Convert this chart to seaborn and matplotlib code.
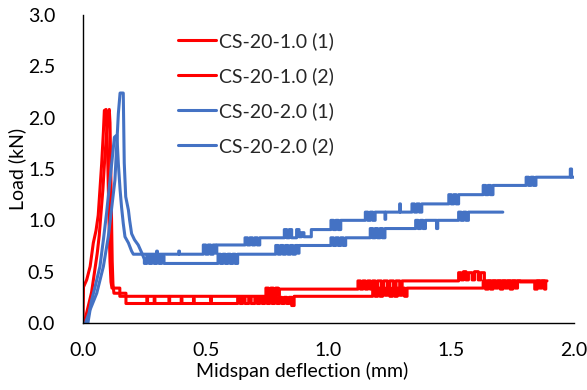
import pandas as pd
import matplotlib
matplotlib.use("Agg")
import matplotlib.pyplot as plt
from matplotlib.lines import Line2D
import seaborn as sns

labels = ["CS-20-1.0 (1)", "CS-20-1.0 (2)", "CS-20-2.0 (1)", "CS-20-2.0 (2)"]
colors = ["#FF0000", "#FF0000", "#4472C4", "#4472C4"]
x_ticks = [0.0, 0.5, 1.0, 1.5, 2.0]
y_ticks = [0.0, 0.5, 1.0, 1.5, 2.0, 2.5, 3.0]

# (midspan deflection mm, load kN) pairs
red1 = [(0.000, 0.00), (0.002, 0.35), (0.015, 0.42), (0.029, 0.55), (0.042, 0.78), (0.053, 0.90),
        (0.062, 1.05), (0.069, 1.30), (0.076, 1.55), (0.083, 1.86), (0.087, 2.07), (0.094, 2.08),
        (0.098, 1.85), (0.102, 1.45), (0.106, 1.00), (0.110, 0.60), (0.114, 0.40), (0.118, 0.34),
        (0.150, 0.34), (0.150, 0.26),
        (0.260, 0.26), (0.260, 0.21), (0.263, 0.21), (0.263, 0.26),
        (0.350, 0.26), (0.350, 0.21), (0.353, 0.21), (0.353, 0.26),
        (0.520, 0.26), (0.520, 0.21), (0.523, 0.21), (0.523, 0.26),
        (0.745, 0.26), (0.745, 0.34), (0.755, 0.34), (0.755, 0.26), (0.765, 0.26), (0.765, 0.34),
        (0.775, 0.34), (0.775, 0.26), (0.785, 0.26), (0.785, 0.34), (0.795, 0.34), (0.795, 0.27),
        (0.800, 0.27), (0.800, 0.33),
        (1.120, 0.33), (1.120, 0.41), (1.130, 0.41), (1.130, 0.33), (1.140, 0.33), (1.140, 0.41),
        (1.150, 0.41), (1.150, 0.33), (1.160, 0.33), (1.160, 0.41), (1.170, 0.41), (1.170, 0.33),
        (1.180, 0.33), (1.180, 0.41), (1.190, 0.41), (1.190, 0.34), (1.200, 0.34), (1.200, 0.41),
        (1.215, 0.41), (1.215, 0.33), (1.225, 0.33), (1.225, 0.41), (1.240, 0.41), (1.240, 0.34),
        (1.250, 0.34), (1.250, 0.41), (1.265, 0.41), (1.265, 0.34), (1.275, 0.34), (1.275, 0.41),
        (1.290, 0.41), (1.290, 0.35), (1.300, 0.35), (1.300, 0.41),
        (1.530, 0.41), (1.530, 0.49), (1.540, 0.49), (1.540, 0.42), (1.550, 0.42), (1.550, 0.50),
        (1.560, 0.50), (1.560, 0.42), (1.570, 0.42), (1.570, 0.49), (1.585, 0.49), (1.585, 0.42),
        (1.595, 0.42), (1.595, 0.50), (1.610, 0.50), (1.610, 0.42), (1.620, 0.42), (1.620, 0.49),
        (1.635, 0.49), (1.635, 0.41),
        (1.890, 0.41)]

red2 = [(0.005, 0.00), (0.020, 0.15), (0.035, 0.30), (0.047, 0.50), (0.058, 0.68), (0.066, 0.85),
        (0.073, 1.06), (0.081, 1.30), (0.088, 1.58), (0.096, 1.85), (0.102, 2.05), (0.107, 2.08),
        (0.110, 1.95), (0.113, 1.50), (0.116, 1.00), (0.119, 0.60), (0.122, 0.38), (0.126, 0.29),
        (0.175, 0.29), (0.175, 0.19),
        (0.290, 0.19), (0.290, 0.24), (0.293, 0.24), (0.293, 0.19),
        (0.400, 0.19), (0.400, 0.24), (0.403, 0.24), (0.403, 0.19),
        (0.450, 0.19), (0.450, 0.24), (0.453, 0.24), (0.453, 0.19),
        (0.630, 0.19), (0.630, 0.25), (0.640, 0.25), (0.640, 0.19), (0.650, 0.19), (0.650, 0.25),
        (0.660, 0.25), (0.660, 0.19), (0.675, 0.19), (0.675, 0.25), (0.685, 0.25), (0.685, 0.19),
        (0.700, 0.19), (0.700, 0.25), (0.710, 0.25), (0.710, 0.19), (0.720, 0.19), (0.720, 0.25),
        (0.730, 0.25), (0.730, 0.19), (0.740, 0.19), (0.740, 0.25), (0.750, 0.25), (0.750, 0.19),
        (0.760, 0.19), (0.760, 0.25), (0.770, 0.25), (0.770, 0.19), (0.780, 0.19), (0.780, 0.25),
        (0.790, 0.25), (0.790, 0.19), (0.800, 0.19), (0.800, 0.25), (0.810, 0.25), (0.810, 0.19),
        (0.820, 0.19), (0.820, 0.25), (0.830, 0.25), (0.830, 0.19), (0.840, 0.19), (0.840, 0.25),
        (0.850, 0.25), (0.850, 0.17), (0.860, 0.17), (0.860, 0.26),
        (1.180, 0.26), (1.180, 0.34), (1.190, 0.34), (1.190, 0.26), (1.200, 0.26), (1.200, 0.34),
        (1.210, 0.34), (1.210, 0.26), (1.220, 0.26), (1.220, 0.34), (1.230, 0.34), (1.230, 0.27),
        (1.240, 0.27), (1.240, 0.34), (1.250, 0.34), (1.250, 0.26), (1.260, 0.26), (1.260, 0.34),
        (1.270, 0.34), (1.270, 0.26), (1.280, 0.26), (1.280, 0.34), (1.290, 0.34), (1.290, 0.27),
        (1.300, 0.27), (1.300, 0.34), (1.310, 0.34), (1.310, 0.26), (1.320, 0.26), (1.320, 0.34),
        (1.630, 0.34), (1.630, 0.41), (1.640, 0.41), (1.640, 0.33), (1.650, 0.33), (1.650, 0.41),
        (1.660, 0.41), (1.660, 0.33), (1.670, 0.33), (1.670, 0.41), (1.680, 0.41), (1.680, 0.34),
        (1.690, 0.34), (1.690, 0.41), (1.700, 0.41), (1.700, 0.33), (1.710, 0.33), (1.710, 0.41),
        (1.720, 0.41), (1.720, 0.34), (1.730, 0.34), (1.730, 0.41), (1.740, 0.41), (1.740, 0.33),
        (1.750, 0.33), (1.750, 0.41), (1.760, 0.41), (1.760, 0.34), (1.770, 0.34), (1.770, 0.41),
        (1.780, 0.41), (1.780, 0.40),
        (1.840, 0.40), (1.840, 0.33), (1.850, 0.33), (1.850, 0.41), (1.860, 0.41), (1.860, 0.34),
        (1.870, 0.34), (1.870, 0.41), (1.880, 0.41), (1.880, 0.33), (1.885, 0.33), (1.885, 0.40)]

blue1 = [(0.010, 0.00), (0.025, 0.10), (0.035, 0.22), (0.049, 0.35), (0.069, 0.55), (0.083, 0.81),
         (0.096, 1.07), (0.110, 1.39), (0.120, 1.62), (0.128, 1.81), (0.138, 1.83), (0.144, 1.55),
         (0.151, 1.30), (0.157, 1.13), (0.164, 0.97), (0.171, 0.84), (0.185, 0.78), (0.198, 0.70),
         (0.205, 0.67),
         (0.300, 0.67), (0.300, 0.70), (0.303, 0.70), (0.303, 0.67),
         (0.390, 0.67), (0.390, 0.70), (0.393, 0.70), (0.393, 0.67),
         (0.490, 0.67), (0.490, 0.76), (0.500, 0.76), (0.500, 0.67), (0.510, 0.67), (0.510, 0.76),
         (0.520, 0.76), (0.520, 0.67), (0.530, 0.67), (0.530, 0.76), (0.540, 0.76), (0.540, 0.68),
         (0.545, 0.68), (0.545, 0.76),
         (0.660, 0.76), (0.660, 0.83), (0.670, 0.83), (0.670, 0.76), (0.680, 0.76), (0.680, 0.83),
         (0.690, 0.83), (0.690, 0.76), (0.700, 0.76), (0.700, 0.83), (0.710, 0.83), (0.710, 0.76),
         (0.720, 0.76), (0.720, 0.83),
         (0.820, 0.83), (0.820, 0.91), (0.830, 0.91), (0.830, 0.83), (0.840, 0.83), (0.840, 0.91),
         (0.850, 0.91), (0.850, 0.83), (0.870, 0.83), (0.870, 0.91), (0.880, 0.91), (0.880, 0.84),
         (0.890, 0.84), (0.890, 0.88), (0.900, 0.88), (0.900, 0.84), (0.930, 0.84), (0.930, 0.91),
         (1.010, 0.91), (1.010, 1.00), (1.020, 1.00), (1.020, 0.91), (1.030, 0.91), (1.030, 1.00),
         (1.040, 1.00), (1.040, 0.91), (1.050, 0.91), (1.050, 1.00), (1.060, 1.00),
         (1.150, 1.00), (1.150, 1.08), (1.160, 1.08), (1.160, 1.00), (1.170, 1.00), (1.170, 1.08),
         (1.180, 1.08), (1.180, 1.00), (1.190, 1.00), (1.190, 1.08),
         (1.230, 1.08), (1.230, 1.01), (1.233, 1.01), (1.233, 1.08),
         (1.290, 1.08), (1.290, 1.16), (1.293, 1.16), (1.293, 1.08),
         (1.340, 1.08), (1.340, 1.16), (1.350, 1.16), (1.350, 1.08), (1.360, 1.08), (1.360, 1.16),
         (1.370, 1.16), (1.370, 1.08), (1.380, 1.08), (1.380, 1.16),
         (1.490, 1.16), (1.490, 1.25), (1.500, 1.25), (1.500, 1.16), (1.510, 1.16), (1.510, 1.25),
         (1.520, 1.25), (1.520, 1.16), (1.530, 1.16), (1.530, 1.25),
         (1.630, 1.25), (1.630, 1.34), (1.640, 1.34), (1.640, 1.25), (1.650, 1.25), (1.650, 1.34),
         (1.660, 1.34), (1.660, 1.25), (1.670, 1.25), (1.670, 1.34),
         (1.805, 1.34), (1.805, 1.42), (1.815, 1.42), (1.815, 1.34), (1.825, 1.34), (1.825, 1.42),
         (1.835, 1.42), (1.835, 1.34), (1.845, 1.34), (1.845, 1.42),
         (1.985, 1.42), (1.985, 1.50), (1.990, 1.50), (1.990, 1.42), (2.000, 1.42)]

blue2 = [(0.020, 0.00), (0.029, 0.13), (0.056, 0.29), (0.083, 0.55), (0.103, 0.84), (0.117, 1.13),
         (0.130, 1.39), (0.137, 1.72), (0.144, 2.04), (0.151, 2.24), (0.164, 2.24), (0.168, 1.56),
         (0.174, 1.23), (0.185, 1.10), (0.190, 1.00), (0.198, 0.87), (0.210, 0.81), (0.225, 0.76),
         (0.240, 0.68), (0.250, 0.62),
         (0.250, 0.58), (0.260, 0.58), (0.260, 0.66), (0.270, 0.66), (0.270, 0.58), (0.280, 0.58),
         (0.280, 0.66), (0.290, 0.66), (0.290, 0.58), (0.300, 0.58), (0.300, 0.66), (0.310, 0.66),
         (0.310, 0.58), (0.320, 0.58), (0.320, 0.65), (0.330, 0.65), (0.330, 0.58),
         (0.550, 0.58), (0.550, 0.67), (0.560, 0.67), (0.560, 0.58), (0.570, 0.58), (0.570, 0.67),
         (0.580, 0.67), (0.580, 0.58), (0.590, 0.58), (0.590, 0.67), (0.600, 0.67), (0.600, 0.58),
         (0.610, 0.58), (0.610, 0.67), (0.620, 0.67), (0.620, 0.58), (0.630, 0.58), (0.630, 0.67),
         (0.785, 0.67), (0.785, 0.755), (0.795, 0.755), (0.795, 0.67), (0.805, 0.67), (0.805, 0.755),
         (0.815, 0.755), (0.815, 0.67), (0.825, 0.67), (0.825, 0.755), (0.835, 0.755), (0.835, 0.67),
         (0.845, 0.67), (0.845, 0.755), (0.855, 0.755), (0.855, 0.67), (0.865, 0.67), (0.865, 0.755),
         (0.875, 0.755), (0.875, 0.68), (0.880, 0.68), (0.880, 0.755),
         (1.010, 0.755), (1.010, 0.83), (1.020, 0.83), (1.020, 0.755), (1.030, 0.755), (1.030, 0.83),
         (1.040, 0.83), (1.040, 0.755), (1.050, 0.755), (1.050, 0.83), (1.060, 0.83), (1.060, 0.755),
         (1.070, 0.755), (1.070, 0.83),
         (1.170, 0.83), (1.170, 0.92), (1.180, 0.92), (1.180, 0.83), (1.190, 0.83), (1.190, 0.92),
         (1.200, 0.92), (1.200, 0.83), (1.210, 0.83), (1.210, 0.92), (1.220, 0.92), (1.220, 0.83),
         (1.230, 0.83), (1.230, 0.92),
         (1.355, 0.92), (1.355, 1.00), (1.365, 1.00), (1.365, 0.92), (1.375, 0.92), (1.375, 1.00),
         (1.385, 1.00), (1.385, 0.92), (1.395, 0.92), (1.395, 1.00),
         (1.440, 1.00), (1.440, 0.92), (1.445, 0.92), (1.445, 1.00),
         (1.530, 1.00), (1.530, 1.08), (1.540, 1.08), (1.540, 1.00), (1.550, 1.00), (1.550, 1.08),
         (1.560, 1.08), (1.560, 1.00), (1.570, 1.00), (1.570, 1.08),
         (1.710, 1.08)]

series = [red1, red2, blue1, blue2]

frames = []
for lab, pts in zip(labels, series):
    frames.append(pd.DataFrame({"x": [p[0] for p in pts], "y": [p[1] for p in pts],
                                "series": lab}))
df = pd.concat(frames, ignore_index=True)

sns.set_theme(style="white")
plt.rcParams["font.family"] = ["Lato", "DejaVu Sans"]
FS = 14

fig = plt.figure(figsize=(5.87, 3.90), dpi=100)
ax = fig.add_axes([83 / 587, 1 - 323 / 390, (574 - 83) / 587, (323 - 15) / 390])

sns.lineplot(data=df, x="x", y="y", hue="series", hue_order=labels,
             palette=dict(zip(labels, colors)), sort=False, estimator=None,
             units="series", linewidth=2.2, ax=ax, legend=False)

ax.set_xlim(0, 2.0)
ax.set_ylim(0, 3.0)
ax.set_xticks(x_ticks)
ax.set_yticks(y_ticks)
ax.set_xticklabels([f"{v:.1f}" for v in x_ticks])
ax.set_yticklabels([f"{v:.1f}" for v in y_ticks])
for s in ["top", "right"]:
    ax.spines[s].set_visible(False)
for s in ["left", "bottom"]:
    ax.spines[s].set_color("#000000")
    ax.spines[s].set_linewidth(1.0)
ax.tick_params(axis="x", direction="in", length=5, width=1, color="#000000",
               labelsize=FS, pad=14, labelcolor="#000000")
ax.tick_params(axis="y", direction="in", length=5, width=1, color="#000000",
               labelsize=FS, pad=20, labelcolor="#000000")
ax.grid(False)

ax.set_xlabel("Midspan deflection (mm)", fontsize=FS, color="#000000")
ax.set_ylabel("Load (kN)", fontsize=FS, color="#000000")
ax.xaxis.set_label_coords(0.446, -0.128)
ax.yaxis.set_label_coords(-0.116, 0.5)

handles = [Line2D([0], [0], color=c, lw=2.2) for c in colors]
ax.legend(handles, labels, loc="upper left", bbox_to_anchor=(0.177, 0.97),
          frameon=False, fontsize=FS, handlelength=1.95, handletextpad=0.15,
          labelspacing=0.88, borderaxespad=0)

fig.savefig("out.png", dpi=100)
